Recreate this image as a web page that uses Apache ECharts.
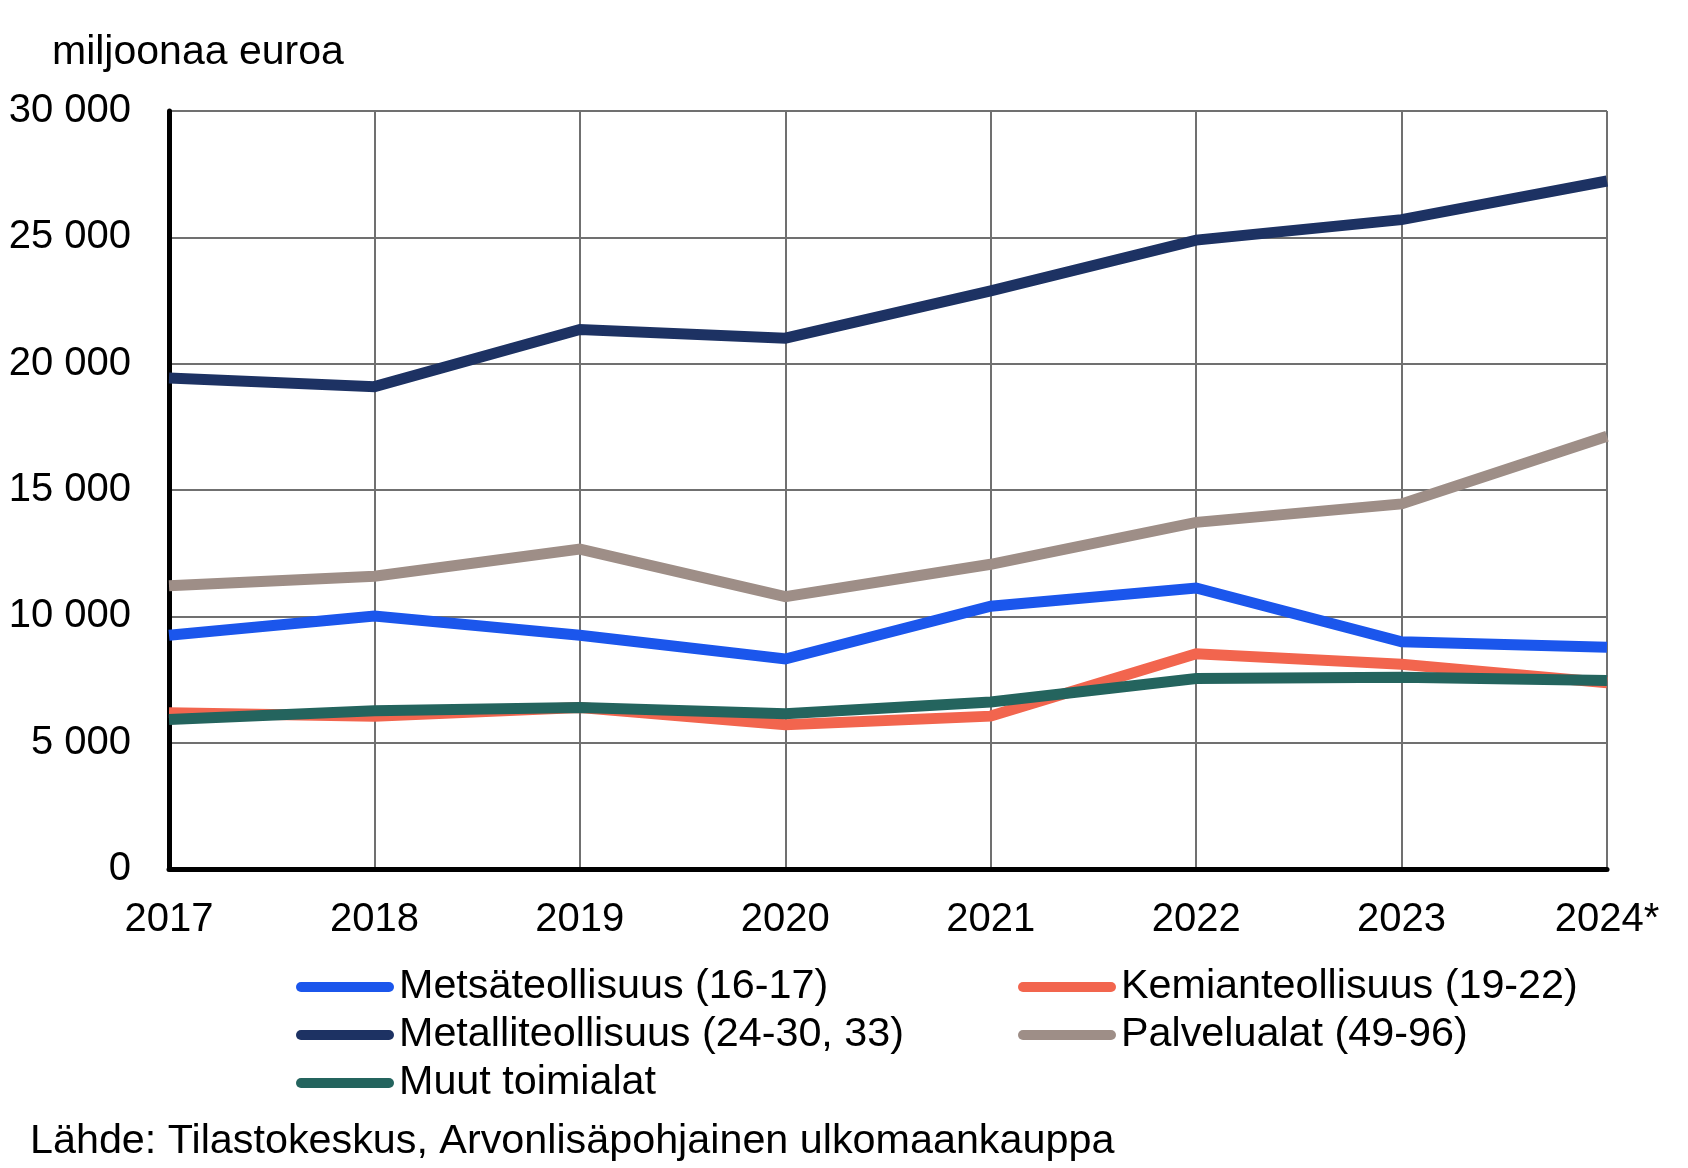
<!DOCTYPE html>
<html>
<head>
<meta charset="utf-8">
<script src="https://cdn.jsdelivr.net/npm/echarts@6/dist/echarts.min.js"></script>
<style>
  html, body { margin: 0; padding: 0; background: #fff; }
  #chart { width: 1688px; height: 1168px; }
</style>
</head>
<body>
<div id="chart"></div>
<script>
// years on the x axis
const years = ["2017", "2018", "2019", "2020", "2021", "2022", "2023", "2024*"];

// million euros
const metsa = [9250, 10010, 9250, 8310, 10400, 11120, 8990, 8780];
const kemia = [6180, 6050, 6390, 5710, 6050, 8520, 8100, 7370];
const metalli = [19430, 19090, 21350, 21010, 22880, 24890, 25700, 27230];
const palvelu = [11210, 11590, 12660, 10780, 12060, 13720, 14450, 17130];
const muut = [5920, 6260, 6390, 6140, 6610, 7540, 7590, 7460];

const yTicks = [0, 5000, 10000, 15000, 20000, 25000, 30000];

const FONT = "'Liberation Sans', Arial, sans-serif";

const chart = echarts.init(document.getElementById("chart"));

const line = (name, data, color) => ({
  name,
  type: "line",
  data,
  symbol: "none",
  lineStyle: { color, width: 11, cap: "butt", join: "miter" },
  itemStyle: { color },
});

// pill shaped legend marker
const pill = "path://M5,0 H93 A5,5 0 0 1 93,10 H5 A5,5 0 0 1 5,0 Z";

const legendBase = {
  orient: "vertical",
  top: 965,
  padding: 0,
  itemWidth: 98,
  itemHeight: 10,
  itemGap: 4,
  icon: pill,
  textStyle: {
    fontFamily: FONT,
    fontSize: 41.3,
    color: "#000",
    lineHeight: 44,
  },
};

chart.setOption({
  animation: false,
  textStyle: { fontFamily: FONT },
  grid: { left: 169, right: 81, top: 111, bottom: 299, containLabel: false },
  graphic: [
    {
      type: "text",
      left: 52,
      top: 32,
      style: { text: "miljoonaa euroa", font: "41px " + FONT, fill: "#000" },
    },
    {
      type: "text",
      left: 30,
      top: 1121,
      style: {
        text: "Lähde: Tilastokeskus, Arvonlisäpohjainen ulkomaankauppa",
        font: "41.3px " + FONT,
        fill: "#000",
      },
    },
  ],
  legend: [
    Object.assign({}, legendBase, {
      left: 296,
      data: ["Metsäteollisuus (16-17)", "Metalliteollisuus (24-30, 33)", "Muut toimialat"],
    }),
    Object.assign({}, legendBase, {
      left: 1018,
      data: ["Kemianteollisuus (19-22)", "Palvelualat (49-96)"],
    }),
  ],
  xAxis: {
    type: "category",
    data: years,
    boundaryGap: false,
    axisLine: { lineStyle: { color: "#000", width: 5 } },
    axisTick: { show: false },
    axisLabel: { fontSize: 40, color: "#000", margin: 31, fontFamily: FONT },
    splitLine: { show: true, lineStyle: { color: "#707070", width: 2 } },
  },
  yAxis: {
    type: "value",
    min: yTicks[0],
    max: yTicks[yTicks.length - 1],
    interval: 5000,
    axisLine: { show: true, lineStyle: { color: "#000", width: 5 } },
    axisTick: { show: false },
    axisLabel: {
      fontSize: 40,
      color: "#000",
      margin: 38,
      fontFamily: FONT,
      padding: [4, 0, 0, 0],
      formatter: (v) => String(v).replace(/\B(?=(\d{3})+(?!\d))/g, " "),
    },
    splitLine: { lineStyle: { color: "#707070", width: 2 } },
  },
  series: [
    line("Metsäteollisuus (16-17)", metsa, "#1b56ec"),
    line("Kemianteollisuus (19-22)", kemia, "#f2654e"),
    line("Metalliteollisuus (24-30, 33)", metalli, "#1d3263"),
    line("Palvelualat (49-96)", palvelu, "#9e8e87"),
    line("Muut toimialat", muut, "#24645e"),
  ],
});
</script>
</body>
</html>
